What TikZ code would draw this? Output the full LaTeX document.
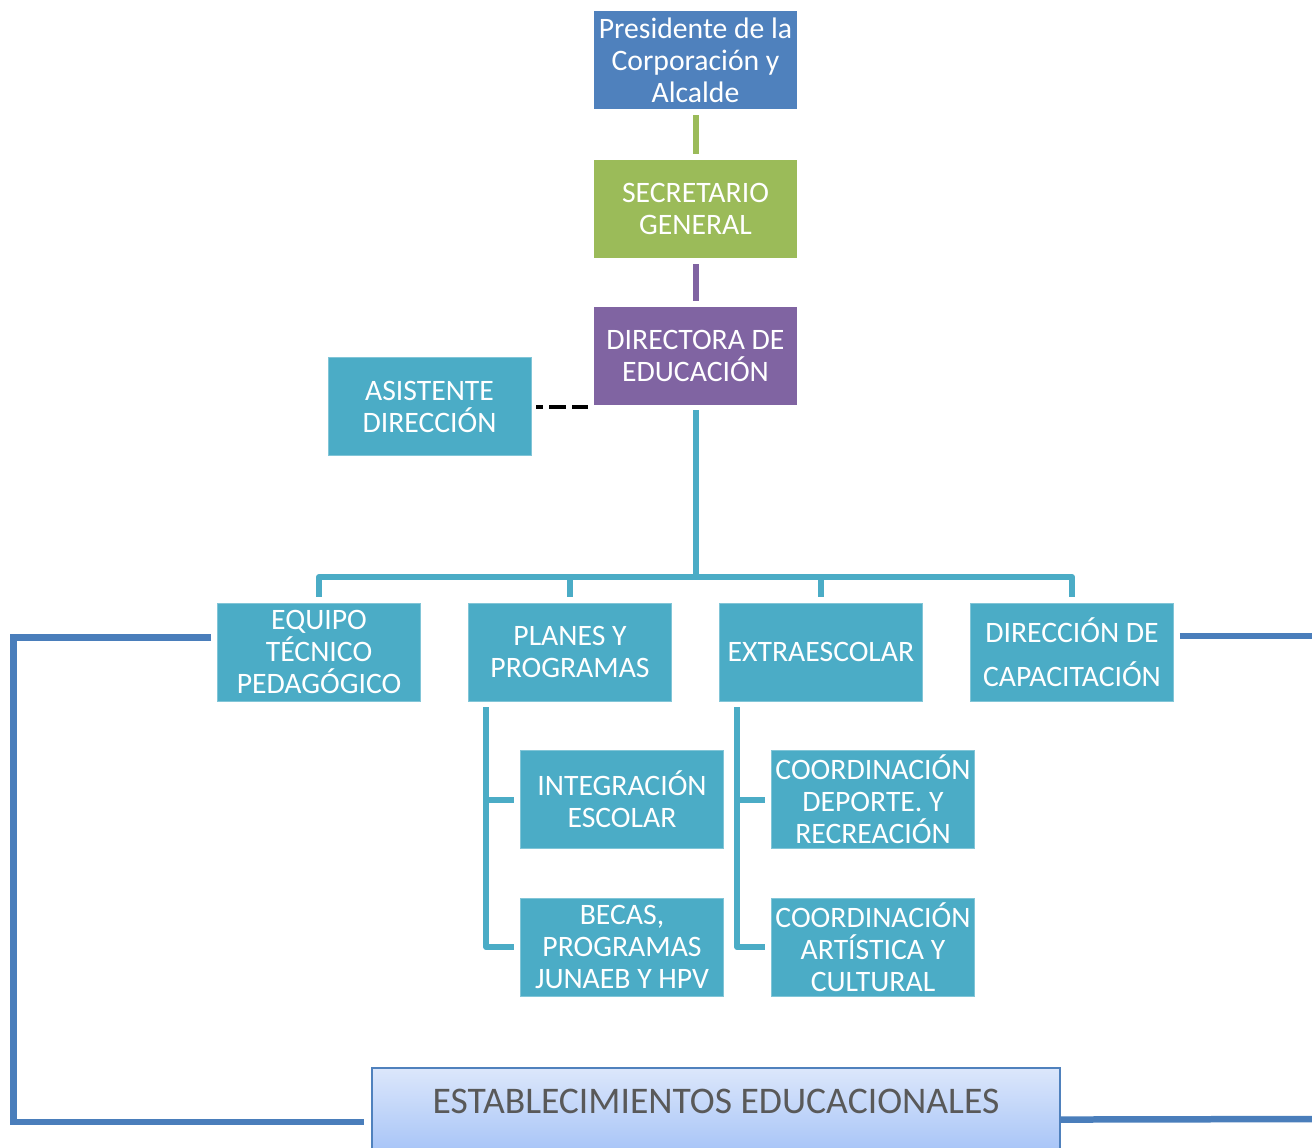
\documentclass[tikz,border=0pt]{standalone}
\usepackage{fontspec}
\setmainfont{Carlito}
\usepackage{xcolor}
\usepackage{tikz}
\usetikzlibrary{calc,positioning}
\definecolor{presblue}{HTML}{4F81BD}
\definecolor{secgreen}{HTML}{9BBB59}
\definecolor{dirpurple}{HTML}{8064A2}
\definecolor{unitteal}{HTML}{4BACC6}
\definecolor{linkblue}{HTML}{4A7EBB}
\definecolor{estabtop}{HTML}{DCE7FB}
\definecolor{estabbot}{HTML}{A4C2F7}
\definecolor{estabtext}{HTML}{595959}
\tikzset{
  box/.style={inner sep=0pt, minimum width=4.06cm, minimum height=1.96cm,
    align=center, text=white, font=\fontsize{16.9}{18.2}\selectfont},
  presbox/.style={box, fill=presblue},
  secbox/.style={box, fill=secgreen},
  dirbox/.style={box, fill=dirpurple},
  unitbox/.style={box, fill=unitteal, draw=unitteal!70!white, line width=0.4pt},
  estabbox/.style={draw=presblue, line width=0.03cm, top color=estabtop, bottom color=estabbot,
    text=estabtext, font=\fontsize{21.4}{25}\selectfont, minimum width=13.76cm,
    inner sep=0pt, text height=26pt, text depth=25pt},
  seclink/.style={draw=secgreen, line width=0.12cm, shorten <=0.12cm, shorten >=0.12cm},
  dirlink/.style={draw=dirpurple, line width=0.12cm, shorten <=0.12cm, shorten >=0.12cm},
  unitlink/.style={draw=unitteal, line width=0.12cm, line join=round},
  asislink/.style={draw=black, line width=0.08cm, dash pattern=on 0.34cm off 0.12cm, dash phase=0.2cm},
  edlink/.style={draw=linkblue, line width=0.13cm},
}

\begin{document}
\begin{tikzpicture}[x=0.02cm, y=-0.02cm]
  \useasboundingbox (0,0) rectangle (1312,1147);

  % top of the chart
  \node[presbox] (pres) at (695.5,60) {Presidente de la\\Corporación y\\Alcalde};
  \node[secbox] (sec) at (695.5,209) {SECRETARIO\\GENERAL};
  \node[dirbox] (dir) at (695.5,356) {DIRECTORA DE\\EDUCACIÓN};
  \node[unitbox] (asis) at (429.5,406.5) {ASISTENTE\\DIRECCIÓN};

  \draw[seclink] (pres) -- (sec);
  \draw[dirlink] (sec) -- (dir);
  \draw[asislink, shorten <=0.1cm, shorten >=0.12cm] (asis.east) -- (asis.east -| dir.west);

  % units
  \node[unitbox] (equipo) at (319,652) {EQUIPO\\TÉCNICO\\PEDAGÓGICO};
  \node[unitbox] (planes) at (570,652) {PLANES Y\\PROGRAMAS};
  \node[unitbox] (extra) at (821,652) {EXTRAESCOLAR};
  \node[unitbox] (capac) at (1072,652) {DIRECCIÓN DE\\[7pt]CAPACITACIÓN};

  \coordinate (bus) at (695.5,577);
  \draw[unitlink, shorten <=0.1cm] (dir) -- (bus);
  \draw[unitlink, shorten >=0.12cm] (bus) -| (equipo);
  \draw[unitlink, shorten >=0.12cm] (bus) -| (planes);
  \draw[unitlink, shorten >=0.12cm] (bus) -| (extra);
  \draw[unitlink, shorten >=0.12cm] (bus) -| (capac);

  % sub units
  \node[unitbox] (integ) at (622,799.5) {INTEGRACIÓN\\ESCOLAR};
  \node[unitbox] (becas) at (622,947) {BECAS,\\PROGRAMAS\\JUNAEB Y HPV};
  \node[unitbox] (deporte) at (873,799.5) {COORDINACIÓN\\DEPORTE. Y\\RECREACIÓN};
  \node[unitbox] (artist) at (873,947) {COORDINACIÓN\\ARTÍSTICA Y\\CULTURAL};

  \draw[unitlink, shorten <=0.12cm, shorten >=0.12cm] ($(planes.south west)+(18,0)$) |- (integ);
  \draw[unitlink, shorten <=0.12cm, shorten >=0.12cm] ($(planes.south west)+(18,0)$) |- (becas);
  \draw[unitlink, shorten <=0.12cm, shorten >=0.12cm] ($(extra.south west)+(18,0)$) |- (deporte);
  \draw[unitlink, shorten <=0.12cm, shorten >=0.12cm] ($(extra.south west)+(18,0)$) |- (artist);

  % schools
  \node[estabbox, anchor=north] (estab) at (716,1067) {ESTABLECIMIENTOS EDUCACIONALES};

  \coordinate (lcorner) at (13.5,1122);
  \coordinate (rtop) at (1320,636);
  \coordinate (rbot) at (1320,1119);
  \draw[edlink, shorten >=0.14cm] ($(equipo.west)+(-6,-14.5)$) -| (lcorner) -- (lcorner -| estab.west);
  \draw[edlink] ($(capac.east)+(6,-16)$) -- (rtop);
  \draw[edlink] ($(estab.east)+(0,7)$) -- (rbot);
\end{tikzpicture}
\end{document}
